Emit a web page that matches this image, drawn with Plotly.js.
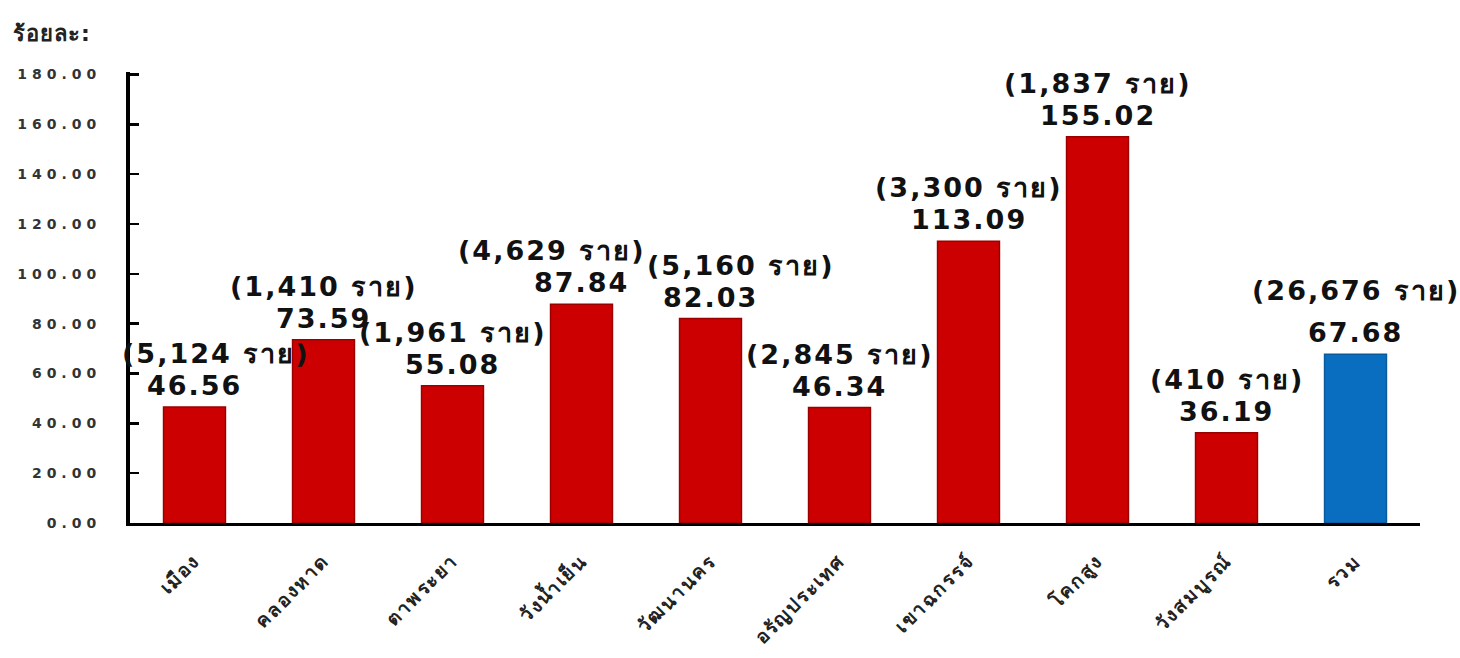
<!DOCTYPE html>
<html>
<head>
<meta charset="utf-8">
<script src="https://cdn.plot.ly/plotly-3.0.1.min.js"></script>
<style>
html,body{margin:0;padding:0;background:#fff;}
#chart{width:1460px;height:658px;}
.ytick text{letter-spacing:5px;}
.xtick text{letter-spacing:2px;}
.annotation .annotation-text{letter-spacing:2px;}
.annotation[data-index="0"] .annotation-text{letter-spacing:1px;}
</style>
</head>
<body>
<div id="chart"></div>
<script>
const districts = ['เมือง','คลองหาด','ตาพระยา','วังน้ำเย็น','วัฒนานคร','อรัญประเทศ','เขาฉกรรจ์','โคกสูง','วังสมบูรณ์','รวม'];
const rates = [46.56, 73.59, 55.08, 87.84, 82.03, 46.34, 113.09, 155.02, 36.19, 67.68];
const cases = [5124, 1410, 1961, 4629, 5160, 2845, 3300, 1837, 410, 26676];
const yTicks = [0, 20, 40, 60, 80, 100, 120, 140, 160, 180];

const red = '#CC0000', blue = '#0A6EC0';
const isTotal = d => d === 'รวม';
const colors = districts.map(d => isTotal(d) ? blue : red);
const lineColors = districts.map(d => isTotal(d) ? '#0a5a9e' : '#9a0000');

const trace = {
  type: 'bar',
  x: districts,
  y: rates,
  marker: {color: colors, line: {color: lineColors, width: 1.5}},
  hoverinfo: 'none'
};

const labelFont = {family: 'DejaVu Sans, Noto Sans, sans-serif', size: 27, color: '#111', weight: 'bold'};
const annotations = [{
  xref: 'paper', yref: 'paper', x: -0.09, y: 1.085, xanchor: 'left', yanchor: 'middle',
  text: 'ร้อยละ:', showarrow: false,
  font: {size: 22, color: '#222', weight: 'bold'}
}];
districts.forEach((d, i) => {
  annotations.push({
    x: d, y: rates[i], xref: 'x', yref: 'y', yanchor: 'bottom', xanchor: 'center',
    text: rates[i].toFixed(2), showarrow: false, yshift: 4, font: labelFont
  });
  annotations.push({
    x: d, y: rates[i], xref: 'x', yref: 'y', yanchor: 'bottom', xanchor: 'center',
    text: '(' + cases[i].toLocaleString('en-US') + ' ราย)', showarrow: false,
    yshift: isTotal(d) ? 46 : 36, font: labelFont
  });
});

const layout = {
  width: 1460, height: 658,
  margin: {l: 130, r: 40, t: 72, b: 135},
  paper_bgcolor: '#fff', plot_bgcolor: '#fff',
  bargap: 0.52,
  showlegend: false,
  font: {family: 'DejaVu Sans, sans-serif', color: '#111'},
  xaxis: {
    type: 'category',
    showline: true, linecolor: '#000', linewidth: 3,
    ticks: '', showgrid: false, zeroline: false,
    tickangle: -45,
    ticklabelstandoff: 16,
    tickfont: {size: 19, color: '#222', weight: 'bold'},
    range: [-0.5, 9.5]
  },
  yaxis: {
    range: [0, 181], tickvals: yTicks, tickformat: '.2f',
    showline: true, linecolor: '#000', linewidth: 4,
    ticks: 'inside', ticklen: 9, tickwidth: 2.5, tickcolor: '#000',
    showgrid: false, zeroline: false,
    ticklabelstandoff: 22,
    tickfont: {size: 14, color: '#333', weight: 'bold'}
  },
  annotations: annotations
};

const gd = document.getElementById('chart');
Plotly.newPlot(gd, [trace], layout, {staticPlot: true, displayModeBar: false}).then(() => {
  // nudge neighbouring case-count labels apart where they collide
  const textRect = k => {
    const el = gd.querySelector('.annotation[data-index="' + k + '"] .annotation-text');
    return el ? el.getBoundingClientRect() : null;
  };
  const countIdx = i => 2 + 2 * i;
  const shifts = districts.map(() => 0);
  const rects = districts.map((d, i) => textRect(countIdx(i)));
  for (let i = 0; i < districts.length - 1; i++) {
    const a = rects[i], b = rects[i + 1];
    if (!a || !b) continue;
    const vOverlap = a.top < b.bottom && b.top < a.bottom;
    const hOverlap = (a.right + shifts[i]) - b.left;
    if (vOverlap && hOverlap > 0) {
      shifts[i] -= hOverlap / 2 + 1;
      shifts[i + 1] += hOverlap / 2 + 1;
    }
  }
  const plotLeft = gd._fullLayout._size.l;
  if (rects[0] && rects[0].left + shifts[0] < plotLeft - 8) {
    shifts[0] = Math.max(shifts[0], plotLeft - 8 - rects[0].left);
  }
  const upd = {};
  shifts.forEach((s, i) => { if (s) upd['annotations[' + countIdx(i) + '].xshift'] = s; });
  if (Object.keys(upd).length) Plotly.relayout(gd, upd);
});
</script>
</body>
</html>
